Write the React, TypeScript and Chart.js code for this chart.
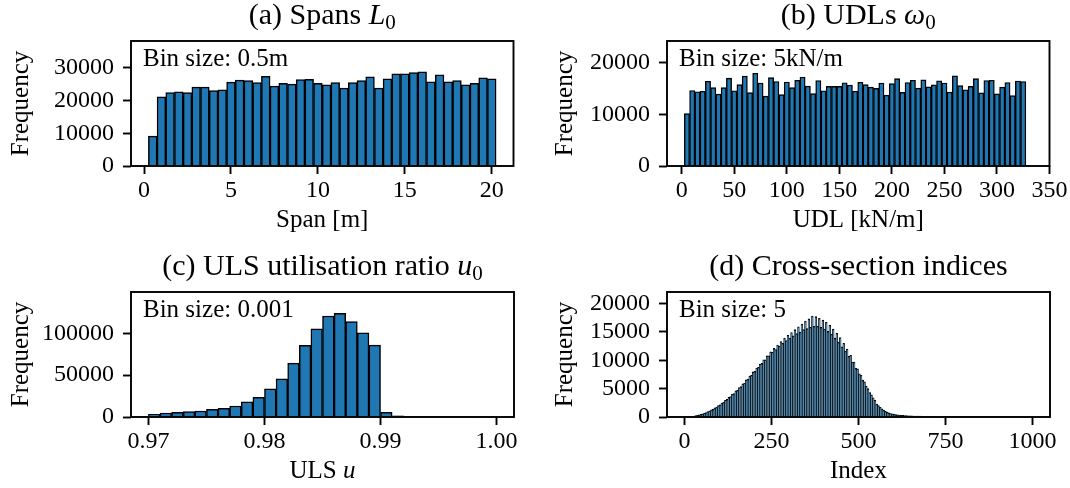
import React, { useEffect, useRef } from "react";
import { Chart, registerables } from "chart.js";
Chart.register(...registerables);

// ---------- DATA ----------
const spanBinStart = 0.25;
const spanBinSize = 0.5;
const spanCounts = [
  9150, 21140, 22460, 22660, 22460, 24080, 24080, 23070, 23270, 25610,
  26220, 26120, 25510, 27440, 24390, 25300, 25000, 26420, 26520, 25300,
  24800, 25510, 23780, 25510, 26120, 27240, 23780, 26630, 28150, 28150,
  28560, 28760, 25710, 27850, 25710, 26120, 24800, 25300, 26930, 26630,
];
const spanXTicks = [0, 5, 10, 15, 20];
const spanYTicks = [0, 10000, 20000, 30000];

const udlBinStart = 2.5;
const udlBinSize = 5;
const udlCounts = [
  10150, 14650, 14400, 14500, 16450, 15200, 13950, 15200, 17050, 14600,
  15800, 17450, 14250, 18000, 16100, 13550, 17150, 16400, 13850, 16300,
  15200, 16650, 17250, 15500, 14050, 16600, 14600, 15450, 15450, 15450,
  16150, 15700, 14500, 16250, 15800, 15300, 15050, 16100, 13750, 16000,
  16950, 14300, 16200, 16650, 15100, 16700, 15350, 15750, 16550, 16100,
  14350, 17500, 15600, 14800, 15450, 16950, 14200, 16600, 16650, 14000,
  15300, 16200, 13650, 16500, 16400,
];
const udlXTicks = [0, 50, 100, 150, 200, 250, 300, 350];
const udlYTicks = [0, 10000, 20000];

const ulsBinStart = 0.97;
const ulsBinSize = 0.001;
const ulsCounts = [
  3200, 4800, 5600, 6400, 7200, 9200, 10400, 13200, 18000, 23600,
  33600, 45600, 64400, 85600, 105600, 120800, 124000, 114000, 100800, 86000,
  5500, 1500, 400, 300, 250, 200, 150, 120, 100, 80,
];
const ulsXTicks = [0.97, 0.98, 0.99, 1.0];
const ulsYTicks = [0, 50000, 100000];

const idxBinStart = 0;
const idxBinSize = 5;
const idxCounts = [
  10, 30, 60, 90, 130, 180, 230, 310, 380, 480,
  560, 680, 780, 950, 1080, 1250, 1380, 1600, 1750, 2000,
  2150, 2450, 2600, 2950, 3100, 3450, 3600, 4000, 4150, 4600,
  4700, 5200, 5350, 5850, 6000, 6550, 6700, 7200, 7350, 7950,
  8050, 8650, 8750, 9350, 9450, 10100, 10100, 10800, 10800, 11500,
  11400, 12100, 11900, 12700, 12500, 13300, 13000, 13900, 13500, 14400,
  13900, 14900, 14300, 15400, 14700, 15900, 15000, 16400, 15400, 16900,
  15600, 17300, 15800, 17800, 16000, 17700, 16000, 17400, 15800, 17100,
  15500, 16700, 15100, 16200, 14600, 15500, 13900, 14800, 13200, 14000,
  12400, 13000, 11600, 12000, 10700, 10900, 9700, 9700, 8600, 8500,
  7600, 7400, 6500, 6200, 5400, 5000, 4300, 3900, 3400, 3000,
  2300, 2000, 1700, 1450, 1200, 1000, 850, 720, 620, 540,
  500, 430, 380, 340, 300, 280, 250, 230, 210, 200,
  190, 180, 170, 160, 150, 145, 140, 130, 125, 120,
  115, 110, 105, 100, 95, 90, 85, 80, 75, 72,
  70, 65, 62, 58, 55, 52, 50, 48, 45, 43,
  40, 38, 36, 34, 32, 30, 29, 28, 27, 26,
  25, 24, 23, 22, 21, 20, 19, 18, 17, 16,
  15, 15, 14, 14, 13, 13, 12, 12, 11, 11,
  10, 10, 9, 9, 8, 8, 7, 7, 6, 5,
];
const idxXTicks = [0, 250, 500, 750, 1000];
const idxYTicks = [0, 5000, 10000, 15000, 20000];

// ---------- STYLE ----------
const FONT = '"Liberation Serif", "Times New Roman", serif';
const BAR = "#1f77b4";

type Seg = { t: string; it?: boolean; sub?: boolean };

function drawRich(ctx: CanvasRenderingContext2D, segs: Seg[], x: number, y: number, size: number, align: "center" | "left") {
  const items = segs.map((s) => {
    const fs = s.sub ? size * 0.7 : size;
    const font = `${s.it ? "italic " : ""}${fs}px ${FONT}`;
    ctx.font = font;
    const w = ctx.measureText(s.t).width;
    return { ...s, font, w };
  });
  const total = items.reduce((a, b) => a + b.w, 0);
  let cx = align === "center" ? x - total / 2 : x;
  ctx.textAlign = "left";
  ctx.textBaseline = "alphabetic";
  for (const it of items) {
    ctx.font = it.font;
    ctx.fillText(it.t, cx, y + (it.sub ? size * 0.17 : 0));
    cx += it.w;
  }
}

type PanelCfg = {
  left: number; top: number; padTop: number; yW: number; padRight: number; xH: number;
  xMin: number; xMax: number; yMax: number; xTicks: number[]; yTicks: number[];
  xFmt: (v: number) => string; start: number; size: number; counts: number[];
  title: Seg[]; xlabel: Seg[]; yLabelX: number; note: string; bw: number;
};

const W = 535, H = 244;

const panels: PanelCfg[] = [
  {
    left: 0, top: 0, padTop: 41, yW: 131, padRight: 21.5, xH: 78,
    xMin: -0.75, xMax: 21.25, yMax: 38200, xTicks: spanXTicks, yTicks: spanYTicks,
    xFmt: (v) => String(v), start: spanBinStart, size: spanBinSize, counts: spanCounts,
    title: [{ t: "(a) Spans " }, { t: "L", it: true }, { t: "0", sub: true }],
    xlabel: [{ t: "Span [m]" }], yLabelX: 21, note: "Bin size: 0.5m", bw: 1.5,
  },
  {
    left: 535, top: 0, padTop: 41, yW: 132, padRight: 20.5, xH: 78,
    xMin: -14, xMax: 350, yMax: 24260, xTicks: udlXTicks, yTicks: udlYTicks,
    xFmt: (v) => String(v), start: udlBinStart, size: udlBinSize, counts: udlCounts,
    title: [{ t: "(b) UDLs " }, { t: "ω", it: true }, { t: "0", sub: true }],
    xlabel: [{ t: "UDL [kN/m]" }], yLabelX: 30, note: "Bin size: 5kN/m", bw: 1.4,
  },
  {
    left: 0, top: 244, padTop: 48, yW: 131, padRight: 21, xH: 71,
    xMin: 0.9685, xMax: 1.0015, yMax: 149500, xTicks: ulsXTicks, yTicks: ulsYTicks,
    xFmt: (v) => v.toFixed(2), start: ulsBinStart, size: ulsBinSize, counts: ulsCounts,
    title: [{ t: "(c) ULS utilisation ratio " }, { t: "u", it: true }, { t: "0", sub: true }],
    xlabel: [{ t: "ULS " }, { t: "u", it: true }], yLabelX: 21, note: "Bin size: 0.001", bw: 1.5,
  },
  {
    left: 535, top: 244, padTop: 48, yW: 132, padRight: 20, xH: 71,
    xMin: -50, xMax: 1050, yMax: 22050, xTicks: idxXTicks, yTicks: idxYTicks,
    xFmt: (v) => String(v), start: idxBinStart, size: idxBinSize, counts: idxCounts,
    title: [{ t: "(d) Cross-section indices" }],
    xlabel: [{ t: "Index" }], yLabelX: 30, note: "Bin size: 5", bw: 0.9,
  },
];

function Panel({ cfg }: { cfg: PanelCfg }) {
  const ref = useRef<HTMLCanvasElement | null>(null);
  useEffect(() => {
    if (!ref.current) return;
    const tickFont = { family: FONT, size: 24 };
    const grid = {
      display: true, drawOnChartArea: false, drawTicks: true, tickLength: 8,
      tickWidth: 1.9, tickColor: "#000", offset: false,
    };
    const decor = {
      id: "decor",
      afterDraw(chart: any) {
        const ctx: CanvasRenderingContext2D = chart.ctx;
        const { left, top, right, bottom } = chart.chartArea;
        ctx.save();
        ctx.lineWidth = 1.9;
        ctx.strokeStyle = "#000";
        ctx.strokeRect(left, top, right - left, bottom - top);
        ctx.fillStyle = "#000";
        drawRich(ctx, cfg.title, (left + right) / 2, top - 17, 30, "center");
        drawRich(ctx, cfg.xlabel, (left + right) / 2, bottom + 61, 25, "center");
        drawRich(ctx, [{ t: cfg.note }], left + 12, top + 25, 25, "left");
        ctx.translate(cfg.yLabelX, (top + bottom) / 2);
        ctx.rotate(-Math.PI / 2);
        ctx.font = `25px ${FONT}`;
        ctx.textAlign = "center";
        ctx.textBaseline = "middle";
        ctx.fillText("Frequency", 0, 0);
        ctx.restore();
      },
    };
    const chart = new Chart(ref.current, {
      type: "bar",
      data: {
        datasets: [
          {
            data: cfg.counts.map((c, i) => ({ x: cfg.start + (i + 0.5) * cfg.size, y: c })),
            backgroundColor: BAR,
            borderColor: "#000",
            borderWidth: cfg.bw,
            barPercentage: 1,
            categoryPercentage: 1,
          },
        ],
      },
      options: {
        responsive: false,
        animation: false,
        devicePixelRatio: 1,
        layout: { padding: { top: cfg.padTop, right: cfg.padRight, left: 0, bottom: 0 } },
        plugins: { legend: { display: false }, tooltip: { enabled: false }, title: { display: false } },
        scales: {
          x: {
            type: "linear",
            min: cfg.xMin,
            max: cfg.xMax,
            offset: false,
            grid,
            border: { display: false },
            ticks: {
              font: tickFont, color: "#000", padding: 2, maxRotation: 0, autoSkip: false,
              callback: (v: any) => cfg.xFmt(Number(v)),
            },
            afterBuildTicks: (s: any) => { s.ticks = cfg.xTicks.map((v) => ({ value: v })); },
            afterFit: (s: any) => { s.height = cfg.xH; },
          },
          y: {
            type: "linear",
            min: 0,
            max: cfg.yMax,
            grid,
            border: { display: false },
            ticks: {
              font: tickFont, color: "#000", padding: 9, autoSkip: false,
              callback: (v: any) => String(v),
            },
            afterBuildTicks: (s: any) => { s.ticks = cfg.yTicks.map((v) => ({ value: v })); },
            afterFit: (s: any) => { s.width = cfg.yW; },
          },
        },
      } as any,
      plugins: [decor],
    });
    return () => chart.destroy();
  }, [cfg]);
  return (
    <canvas
      ref={ref}
      width={W}
      height={H}
      style={{ position: "absolute", left: cfg.left, top: cfg.top, width: W, height: H }}
    />
  );
}

export default function App() {
  return (
    <div style={{ position: "absolute", left: 0, top: 0, width: 1070, height: 488, background: "#fff" }}>
      {panels.map((p, i) => (
        <Panel key={i} cfg={p} />
      ))}
    </div>
  );
}
